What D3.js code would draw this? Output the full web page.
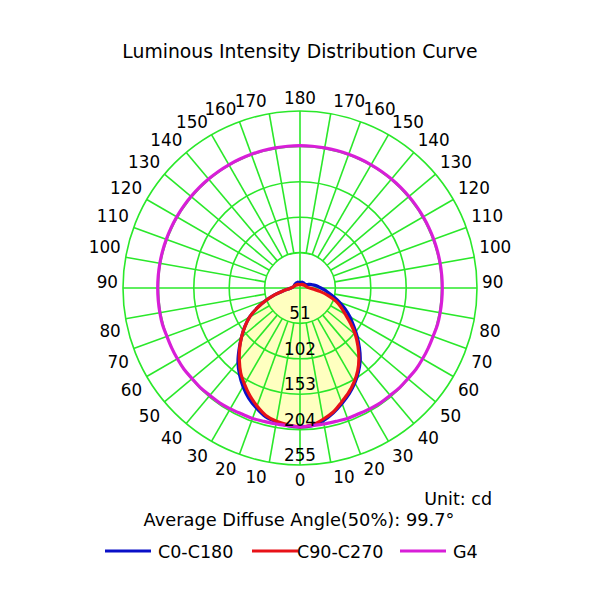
<!DOCTYPE html>
<html>
<head>
<meta charset="utf-8">
<script src="https://cdn.jsdelivr.net/npm/d3@7"></script>
<style>
	body { margin: 0; background: #fff; }
	text { font-family: "DejaVu Sans", Verdana, sans-serif; fill: #000; }
</style>
</head>
<body>
<div id="container"></div>
<script>
// 1. Data (cd)
const angles = [0, 5, 10, 15, 20, 25, 30, 35, 40, 45, 50, 55, 60, 65, 70, 75, 80, 85, 90,
	95, 100, 105, 110, 115, 120, 125, 130, 135, 140, 145, 150, 155, 160, 165, 170, 175, 180]

// right half / left half of each C-plane pair
const c0 = [200, 199, 194, 186, 177, 168, 158, 147, 135, 121, 107, 94, 83, 72, 61, 51, 42, 36, 30,
	26, 22, 18, 15, 12, 10, 9, 9, 9, 9, 9, 9, 9, 9, 8, 8, 8, 8]
const c180 = [200, 199, 196, 192, 184, 175, 164, 152, 139, 124, 110, 97, 84, 68, 52, 38, 25, 17, 13,
	11, 10, 9, 9, 9, 9, 9, 9, 9, 9, 9, 9, 9, 9, 8, 8, 8, 8]
const c90 = [200, 198, 192, 185, 175, 166, 156, 145, 132, 118, 104, 89, 75, 65, 55, 42, 30, 20, 14,
	11, 10, 9, 9, 8, 8, 7, 7, 7, 6, 6, 6, 6, 5, 5, 5, 5, 5]
const c270 = [200, 198, 195, 190, 181, 171, 160, 149, 136, 123, 110, 97, 84, 68, 52, 38, 25, 17, 13,
	11, 10, 9, 9, 8, 8, 7, 7, 7, 6, 6, 6, 6, 5, 5, 5, 5, 5]
const g4 = [200, 199, 199, 199, 200, 200, 201, 202, 202, 203, 203, 204, 204, 204, 204, 205, 205, 205, 205,
	205, 205, 205, 205, 205, 205, 205, 205, 205, 205, 205, 205, 205, 205, 205, 205, 205, 205]

const ringTicks = [51, 102, 153, 204, 255]
const angleTicks = [0, 10, 20, 30, 40, 50, 60, 70, 80, 90, 100, 110, 120, 130, 140, 150, 160, 170, 180]

const seriesNames = ["C0-C180", "C90-C270", "G4"]
const seriesColors = ["#0a10c8", "#e81218", "#d81ed8"]

const series = [
	{ name: seriesNames[0], color: seriesColors[0], right: c0, left: c180, fill: true },
	{ name: seriesNames[1], color: seriesColors[1], right: c90, left: c270, fill: true },
	{ name: seriesNames[2], color: seriesColors[2], right: g4, left: g4, fill: false },
]

// 2. Dimensions
const width = 600
const height = 600
const cx = 300
const cy = 288
const outerR = 177
const labelR = 180
const grid = "#2ae82a"

// 3. Canvas
const svg = d3.select("#container")
	.append("svg")
	.attr("width", width)
	.attr("height", height)

const bounds = svg.append("g")
	.attr("transform", `translate(${cx},${cy})`)

// 4. Scales
const rScale = d3.scaleLinear()
	.domain([0, 255])
	.range([0, outerR])

const toRad = deg => deg * Math.PI / 180

// closed loop: right side from bottom up, then left side from top down
function loopPoints(s) {
	const pts = []
	angles.forEach((a, i) => pts.push({ a: Math.PI - toRad(a), v: s.right[i] }))
	for (let i = angles.length - 2; i > 0; i--) {
		pts.push({ a: Math.PI + toRad(angles[i]), v: s.left[i] })
	}
	return pts
}

const radial = d3.lineRadial()
	.angle(d => d.a)
	.radius(d => rScale(d.v))
	.curve(d3.curveCatmullRomClosed.alpha(0.5))

// 5. Draw data
// fills under the grid
bounds.selectAll(".fill")
	.data(series.filter(s => s.fill))
	.join("path")
	.attr("class", "fill")
	.attr("d", s => radial(loopPoints(s)))
	.attr("fill", "#ffffc0")
	.attr("stroke", "none")

// grid rings
bounds.selectAll(".ring")
	.data(ringTicks)
	.join("circle")
	.attr("class", "ring")
	.attr("r", d => rScale(d))
	.attr("fill", "none")
	.attr("stroke", grid)
	.attr("stroke-width", 1.6)

// spokes (every 10deg, from first ring outwards)
const spokes = []
angleTicks.forEach(t => {
	if (t === 0 || t === 90 || t === 180) return
	spokes.push({ t, side: -1 }, { t, side: 1 })
})
bounds.selectAll(".spoke")
	.data(spokes)
	.join("line")
	.attr("class", "spoke")
	.attr("x1", d => d.side * rScale(ringTicks[0]) * Math.sin(toRad(d.t)))
	.attr("y1", d => rScale(ringTicks[0]) * Math.cos(toRad(d.t)))
	.attr("x2", d => d.side * outerR * Math.sin(toRad(d.t)))
	.attr("y2", d => outerR * Math.cos(toRad(d.t)))
	.attr("stroke", grid)
	.attr("stroke-width", 1.6)

// full axes through the centre
bounds.append("line")
	.attr("x1", 0).attr("x2", 0)
	.attr("y1", -outerR).attr("y2", outerR)
	.attr("stroke", grid)
	.attr("stroke-width", 1.6)
bounds.append("line")
	.attr("y1", 0).attr("y2", 0)
	.attr("x1", -outerR).attr("x2", outerR)
	.attr("stroke", grid)
	.attr("stroke-width", 1.6)

// curves
bounds.selectAll(".curve")
	.data(series)
	.join("path")
	.attr("class", "curve")
	.attr("d", s => radial(loopPoints(s)))
	.attr("fill", "none")
	.attr("stroke", s => s.color)
	.attr("stroke-width", 3.2)

// 6. Peripherals
// ring value labels
bounds.selectAll(".ring-label")
	.data(ringTicks)
	.join("text")
	.attr("class", "ring-label")
	.attr("x", 0)
	.attr("y", d => rScale(d) - 4)
	.attr("text-anchor", "middle")
	.style("font-size", "16.8px")
	.text(d => d)

// angle labels
const angleLabels = []
angleTicks.forEach(t => {
	if (t === 0 || t === 180) angleLabels.push({ t, side: 0 })
	else angleLabels.push({ t, side: -1 }, { t, side: 1 })
})
bounds.selectAll(".angle-label")
	.data(angleLabels)
	.join("text")
	.attr("class", "angle-label")
	.attr("x", d => d.side * labelR * Math.sin(toRad(d.t)) + d.side * 2)
	.attr("y", d => labelR * Math.cos(toRad(d.t)) + (d.t > 90 ? -4 : d.t === 90 ? 0 : 18))
	.attr("text-anchor", d => d.side === 0 ? "middle" : d.side < 0 ? "end" : "start")
	.style("font-size", "16.8px")
	.text(d => d.t)

// title and notes
svg.append("text")
	.attr("x", 300).attr("y", 58)
	.attr("text-anchor", "middle")
	.style("font-size", "18.8px")
	.text("Luminous Intensity Distribution Curve")

svg.append("text")
	.attr("x", 492).attr("y", 505)
	.attr("text-anchor", "end")
	.style("font-size", "17.5px")
	.text("Unit: cd")

svg.append("text")
	.attr("x", 299).attr("y", 526)
	.attr("text-anchor", "middle")
	.style("font-size", "17.8px")
	.text("Average Diffuse Angle(50%): 99.7°")

// legend
const legendLineX = [105, 252, 400]
const legendTextX = [158, 297, 453]
const legend = svg.selectAll(".legend")
	.data(series)
	.join("g")
	.attr("class", "legend")

legend.append("line")
	.attr("x1", (d, i) => legendLineX[i])
	.attr("x2", (d, i) => legendLineX[i] + 46)
	.attr("y1", 551).attr("y2", 551)
	.attr("stroke", d => d.color)
	.attr("stroke-width", 3)

legend.append("text")
	.attr("x", (d, i) => legendTextX[i])
	.attr("y", 558)
	.style("font-size", "17.5px")
	.text(d => d.name)
</script>
</body>
</html>
